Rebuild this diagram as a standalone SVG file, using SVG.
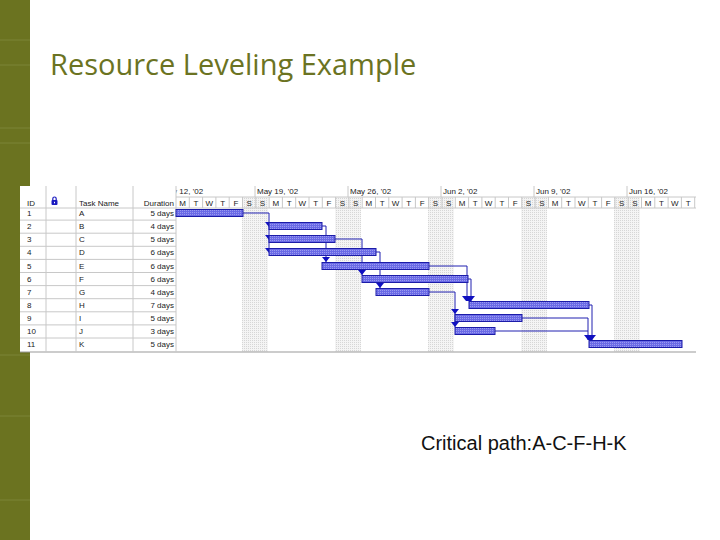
<svg xmlns="http://www.w3.org/2000/svg" width="720" height="540" viewBox="0 0 720 540">
<defs>
<style>
.t{font-family:"Liberation Sans",Arial,sans-serif;font-size:8px;fill:#222}
.g{stroke:#c8c8c8;stroke-width:1;fill:none}
.bar{fill:url(#hatch);stroke:#1c1ca8;stroke-width:1}
.cn{stroke:#2020b0;stroke-width:1;fill:none}
.ah{fill:#1010c0}
</style>
<pattern id="hatch" width="2" height="2" patternUnits="userSpaceOnUse"><rect width="2" height="2" fill="#6a6ae6"/><rect width="1" height="1" fill="#9a9af0"/></pattern>
<pattern id="wk" width="2" height="2" patternUnits="userSpaceOnUse"><rect width="2" height="2" fill="#f4f4f4"/><rect width="1" height="1" fill="#d6d6d6"/></pattern>
<clipPath id="gc"><rect x="176" y="186" width="520" height="170"/></clipPath>
</defs>
<rect width="720" height="540" fill="#fff"/>
<g id="sidebar">
<rect width="30" height="540" fill="#6b7320"/>
<g stroke="#7d8536" stroke-width="1">
<line x1="0" y1="40" x2="30" y2="40"/><line x1="0" y1="65" x2="30" y2="65"/><line x1="0" y1="128" x2="30" y2="128"/><line x1="0" y1="143" x2="30" y2="143"/><line x1="0" y1="355" x2="30" y2="355"/><line x1="0" y1="416" x2="30" y2="416"/><line x1="0" y1="500" x2="30" y2="500"/>
</g>
</g>
<text id="title" x="50" y="75" font-family="'Open Sans','Noto Sans',sans-serif" font-size="29" fill="#6b7322">Resource Leveling Example</text>
<g id="gantt">
<rect x="20" y="186" width="676" height="166" fill="#fff"/>
<g clip-path="url(#gc)">
<rect x="242" y="197" width="26" height="155" fill="url(#wk)"/>
<rect x="335" y="197" width="26" height="155" fill="url(#wk)"/>
<rect x="428" y="197" width="26" height="155" fill="url(#wk)"/>
<rect x="521" y="197" width="26" height="155" fill="url(#wk)"/>
<rect x="614" y="197" width="26" height="155" fill="url(#wk)"/>
<text class="t" x="162" y="194">May 12, '02</text>
</g>
<g class="t">
<text x="257" y="194">May 19, '02</text><text x="350" y="194">May 26, '02</text><text x="443" y="194">Jun 2, '02</text><text x="536" y="194">Jun 9, '02</text><text x="629" y="194">Jun 16, '02</text>
</g>
<g class="g">
<line x1="255" y1="186" x2="255" y2="197"/><line x1="348" y1="186" x2="348" y2="197"/><line x1="441" y1="186" x2="441" y2="197"/><line x1="534" y1="186" x2="534" y2="197"/><line x1="627" y1="186" x2="627" y2="197"/>
<line x1="176" y1="197" x2="696" y2="197"/><line x1="20" y1="208" x2="696" y2="208"/>
<line x1="20" y1="352" x2="696" y2="352" stroke="#999"/>
<line x1="46" y1="186" x2="46" y2="352"/><line x1="76" y1="186" x2="76" y2="352"/><line x1="133" y1="186" x2="133" y2="352"/><line x1="176" y1="186" x2="176" y2="352"/>
<path d="M20 220.1H176M20 233.2H176M20 246.3H176M20 259.4H176M20 272.5H176M20 285.6H176M20 298.7H176M20 311.8H176M20 324.9H176M20 338H176"/>
<path d="M189.3 197V208M202.6 197V208M215.9 197V208M229.2 197V208M242.5 197V208M255.8 197V208M269.1 197V208M282.4 197V208M295.7 197V208M309 197V208M322.3 197V208M335.6 197V208M348.9 197V208M362.2 197V208M375.5 197V208M388.8 197V208M402.1 197V208M415.4 197V208M428.7 197V208M442 197V208M455.3 197V208M468.6 197V208M481.9 197V208M495.2 197V208M508.5 197V208M521.8 197V208M535.1 197V208M548.4 197V208M561.7 197V208M575 197V208M588.3 197V208M601.6 197V208M614.9 197V208M628.2 197V208M641.5 197V208M654.8 197V208M668.1 197V208M681.4 197V208M694.7 197V208"/>
</g>
<g class="t" text-anchor="middle">
<text x="182.7" y="206">M</text><text x="196" y="206">T</text><text x="209.3" y="206">W</text><text x="222.6" y="206">T</text><text x="235.9" y="206">F</text><text x="249.2" y="206">S</text><text x="262.5" y="206">S</text>
<text x="275.8" y="206">M</text><text x="289.1" y="206">T</text><text x="302.4" y="206">W</text><text x="315.7" y="206">T</text><text x="329" y="206">F</text><text x="342.3" y="206">S</text><text x="355.6" y="206">S</text>
<text x="368.9" y="206">M</text><text x="382.2" y="206">T</text><text x="395.5" y="206">W</text><text x="408.8" y="206">T</text><text x="422.1" y="206">F</text><text x="435.4" y="206">S</text><text x="448.7" y="206">S</text>
<text x="462" y="206">M</text><text x="475.3" y="206">T</text><text x="488.6" y="206">W</text><text x="501.9" y="206">T</text><text x="515.2" y="206">F</text><text x="528.5" y="206">S</text><text x="541.8" y="206">S</text>
<text x="555.1" y="206">M</text><text x="568.4" y="206">T</text><text x="581.7" y="206">W</text><text x="595" y="206">T</text><text x="608.3" y="206">F</text><text x="621.6" y="206">S</text><text x="634.9" y="206">S</text>
<text x="648.2" y="206">M</text><text x="661.5" y="206">T</text><text x="674.8" y="206">W</text><text x="688.1" y="206">T</text>
</g>
<g class="t">
<text x="27" y="206">ID</text><text x="79" y="206">Task Name</text><text x="174" y="206" text-anchor="end">Duration</text>
</g>
<g id="lock"><rect x="51.5" y="200" width="6" height="5" rx="1" fill="#1a1ac0"/><path d="M52.8 200.5v-1.8a1.7 1.7 0 0 1 3.4 0v1.8" stroke="#1a1ac0" stroke-width="1.2" fill="none"/><rect x="54" y="201.8" width="1" height="1.5" fill="#fff"/></g>
</g>
<g id="table" class="t">
<text x="27" y="216">1</text><text x="79" y="216">A</text><text x="174" y="216" text-anchor="end">5 days</text>
<text x="27" y="229">2</text><text x="79" y="229">B</text><text x="174" y="229" text-anchor="end">4 days</text>
<text x="27" y="242">3</text><text x="79" y="242">C</text><text x="174" y="242" text-anchor="end">5 days</text>
<text x="27" y="255">4</text><text x="79" y="255">D</text><text x="174" y="255" text-anchor="end">6 days</text>
<text x="27" y="269">5</text><text x="79" y="269">E</text><text x="174" y="269" text-anchor="end">6 days</text>
<text x="27" y="282">6</text><text x="79" y="282">F</text><text x="174" y="282" text-anchor="end">6 days</text>
<text x="27" y="295">7</text><text x="79" y="295">G</text><text x="174" y="295" text-anchor="end">4 days</text>
<text x="27" y="308">8</text><text x="79" y="308">H</text><text x="174" y="308" text-anchor="end">7 days</text>
<text x="27" y="321">9</text><text x="79" y="321">I</text><text x="174" y="321" text-anchor="end">5 days</text>
<text x="27" y="334">10</text><text x="79" y="334">J</text><text x="174" y="334" text-anchor="end">3 days</text>
<text x="27" y="347">11</text><text x="79" y="347">K</text><text x="174" y="347" text-anchor="end">5 days</text>
</g>
<g id="connectors">
<path class="cn" d="M243 213H269V250M322 226H326V262M335 239H362V275M376 252H380V288M429 266H467V301M468 279H471V301M429 292H455V327M522 318H588V340M495 331H588M589 305H592V340"/>
<g class="ah">
<path d="M265 222h8l-4 5z"/><path d="M265 235h8l-4 5z"/><path d="M265 248h8l-4 5z"/>
<path d="M322 257h8l-4 5z"/><path d="M358 270h8l-4 5z"/><path d="M376 283h8l-4 5z"/>
<path d="M462 296h13l-4 5h-5z"/><path d="M451 309h8l-4 5z"/><path d="M451 322h8l-4 5z"/><path d="M584 335h12l-4 5h-4z"/>
</g>
</g>
<g id="bars">
<rect class="bar" x="176" y="209.5" width="67" height="7"/>
<rect class="bar" x="269" y="222.5" width="53" height="7"/>
<rect class="bar" x="269" y="235.5" width="66" height="7"/>
<rect class="bar" x="269" y="248.5" width="107" height="7"/>
<rect class="bar" x="322" y="262.5" width="107" height="7"/>
<rect class="bar" x="362" y="275.5" width="106" height="7"/>
<rect class="bar" x="376" y="288.5" width="53" height="7"/>
<rect class="bar" x="469" y="301.5" width="120" height="7"/>
<rect class="bar" x="455" y="314.5" width="67" height="7"/>
<rect class="bar" x="455" y="327.5" width="40" height="7"/>
<rect class="bar" x="589" y="340.5" width="93" height="7"/>
</g>
<text id="critical" x="421" y="450" font-family="'Liberation Sans',Arial,sans-serif" font-size="20" fill="#111">Critical path:A-C-F-H-K</text>
</svg>
